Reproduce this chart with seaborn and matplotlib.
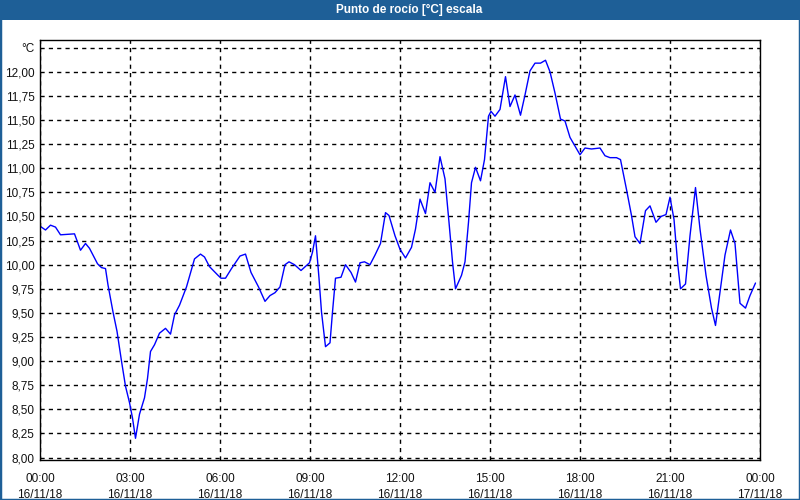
import matplotlib
matplotlib.use("Agg")
import matplotlib.pyplot as plt
import matplotlib.patches as mpatches
from matplotlib.ticker import MultipleLocator
import pandas as pd
import seaborn as sns

# ---- data (minutes after 00:00 on 16/11/18, dew point in °C) ----
minutes = [0, 11, 21, 31, 41, 69, 81, 91, 99, 115, 123, 131, 136, 146, 154, 163,
           171, 179, 185, 191, 199, 209, 215, 221, 229, 239, 251, 261, 269, 279,
           293, 309, 321, 329, 339, 356,
           362, 371, 383, 400, 411, 422, 437, 450, 460, 470, 480, 490, 498, 509,
           522, 539, 545, 551, 558, 563, 571, 580, 585, 591, 602, 611, 622, 631,
           640, 649, 660, 670, 681, 691, 698, 710,
           720, 731, 743, 751, 760, 771, 780, 790, 800, 810, 818, 825, 831, 843,
           850, 857, 863, 871, 881, 889, 897, 902, 910, 920, 931, 940, 950, 961,
           970, 980, 990, 1001, 1011, 1020, 1030, 1041, 1050, 1060, 1070, 1080,
           1090, 1103, 1120, 1130, 1140, 1153, 1161, 1173, 1183, 1190, 1200, 1211,
           1220, 1232, 1242, 1252, 1260, 1268, 1275, 1281, 1291, 1300, 1311, 1320,
           1332, 1343, 1351, 1359, 1370, 1381, 1390, 1400, 1411, 1420, 1431]
dew_point = [10.40, 10.36, 10.41, 10.39, 10.31, 10.32, 10.15, 10.22, 10.17, 10.01,
             9.97, 9.96, 9.79, 9.51, 9.31, 9.00, 8.74, 8.57, 8.41, 8.20, 8.45, 8.62,
             8.82, 9.10, 9.17, 9.29, 9.34, 9.28, 9.48, 9.58, 9.77, 10.06, 10.11,
             10.08, 9.98, 9.89,
             9.86, 9.86, 9.96, 10.09, 10.11, 9.92, 9.77, 9.62, 9.68, 9.71, 9.77,
             10.00, 10.03, 10.00, 9.94, 10.02, 10.13, 10.30, 9.86, 9.51, 9.15, 9.19,
             9.51, 9.86, 9.87, 10.00, 9.92, 9.82, 10.02, 10.03, 10.00, 10.10, 10.22,
             10.54, 10.51, 10.30,
             10.16, 10.07, 10.18, 10.37, 10.68, 10.53, 10.85, 10.75, 11.12, 10.89,
             10.44, 10.03, 9.75, 9.89, 10.03, 10.44, 10.85, 11.01, 10.87, 11.09,
             11.54, 11.59, 11.54, 11.61, 11.95, 11.64, 11.76, 11.55, 11.76, 12.01,
             12.09, 12.09, 12.12, 12.00, 11.78, 11.51, 11.49, 11.32, 11.23, 11.14,
             11.21, 11.20, 11.21, 11.13, 11.11, 11.11, 11.09, 10.78, 10.51, 10.29,
             10.22, 10.56, 10.61, 10.44, 10.50, 10.52, 10.70, 10.47, 10.03, 9.75,
             9.80, 10.30, 10.80, 10.37, 9.89, 9.55, 9.37, 9.68, 10.10, 10.36, 10.22,
             9.60, 9.55, 9.68, 9.81]

x_tick_minutes = [0, 180, 360, 540, 720, 900, 1080, 1260, 1440]
x_tick_labels = ["00:00\n16/11/18", "03:00\n16/11/18", "06:00\n16/11/18",
                 "09:00\n16/11/18", "12:00\n16/11/18", "15:00\n16/11/18",
                 "18:00\n16/11/18", "21:00\n16/11/18", "00:00\n17/11/18"]
y_ticks = [8.00, 8.25, 8.50, 8.75, 9.00, 9.25, 9.50, 9.75, 10.00, 10.25, 10.50,
           10.75, 11.00, 11.25, 11.50, 11.75, 12.00, 12.25]
y_tick_labels = ["8,00", "8,25", "8,50", "8,75", "9,00", "9,25", "9,50", "9,75",
                 "10,00", "10,25", "10,50", "10,75", "11,00", "11,25", "11,50",
                 "11,75", "12,00", "°C"]
title = "Punto de rocío [°C] escala"

df = pd.DataFrame({"min": minutes, "dp": dew_point})

sns.set_style("white")
plt.rcParams["font.family"] = ["Liberation Sans", "DejaVu Sans"]

fig = plt.figure(figsize=(8, 5), dpi=100, facecolor="white")
ax = fig.add_axes([40 / 800, 40 / 500, 720 / 800, 420 / 500])

sns.lineplot(data=df, x="min", y="dp", ax=ax, color="#0000ff", linewidth=1.0,
             estimator=None, sort=False)

ax.set_xlim(0, 1440)
ax.set_ylim(7.975, 12.33)
ax.set_xticks(x_tick_minutes)
ax.set_xticklabels(x_tick_labels, fontsize=8.5, color="#111111", linespacing=1.45)
ax.xaxis.set_minor_locator(MultipleLocator(60))
ax.set_yticks(y_ticks)
ax.set_yticklabels(y_tick_labels, fontsize=8.5, color="#111111")
ax.tick_params(axis="x", which="major", length=4, width=1, color="black", pad=5)
ax.tick_params(axis="x", which="minor", length=4, width=1, color="black")
ax.tick_params(axis="y", length=0, pad=4)
ax.set_xlabel("")
ax.set_ylabel("")

ax.grid(True, which="major", color="black", linestyle=(0, (3, 3)), linewidth=1.0)
ax.set_axisbelow(True)
for s in ax.spines.values():
    s.set_color("black")
    s.set_linewidth(1.0)

# title bar
bar = mpatches.Rectangle((0, 480 / 500), 1, 20 / 500, transform=fig.transFigure,
                         facecolor="#1e5f97", edgecolor="none", zorder=0)
fig.patches.append(bar)
fig.text(0.512, 490 / 500, title, color="white", fontsize=8.5, fontweight="bold",
         ha="center", va="center")
# outer frame
frame = mpatches.Rectangle((0, 0), 1, 1, transform=fig.transFigure,
                           facecolor="none", edgecolor="#1e5f97", linewidth=2.5)
fig.patches.append(frame)

fig.savefig("out.png", dpi=100, facecolor="white")
